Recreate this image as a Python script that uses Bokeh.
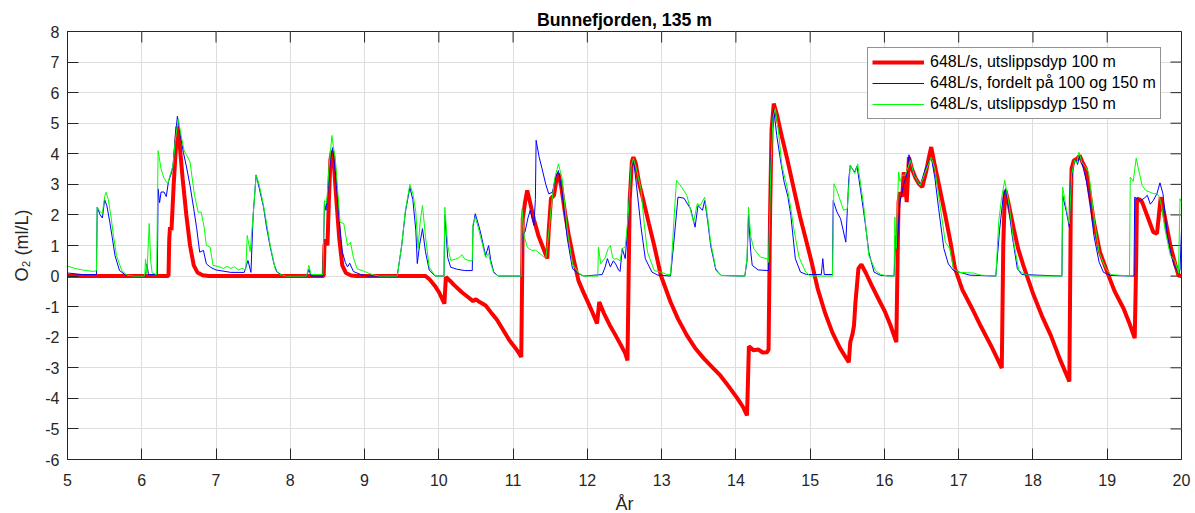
from bokeh.plotting import figure
from bokeh.models import Range1d, FixedTicker
from bokeh.embed import file_html
from bokeh.resources import INLINE

# ---------------- data ----------------
x_ticks = list(range(5, 21))
y_ticks = list(range(-6, 9))

red_t = [5.0, 6.36, 6.37, 6.38, 6.40, 6.41, 6.43, 6.46, 6.48, 6.50, 6.55, 6.60, 6.65, 6.70, 6.75, 6.82, 6.90,
         8.45, 8.46, 8.48, 8.50, 8.52, 8.54, 8.56, 8.58, 8.62, 8.66, 8.70, 8.75, 8.82, 8.90,
         9.82, 9.88, 9.95, 10.0, 10.04, 10.075, 10.095, 10.15, 10.20, 10.31, 10.40, 10.46, 10.50, 10.55, 10.63,
         10.70, 10.78, 10.85, 10.95, 11.03, 11.07, 11.11, 11.13, 11.16, 11.19, 11.22, 11.28, 11.34, 11.40,
         11.46, 11.48, 11.51, 11.55, 11.58, 11.61, 11.65, 11.70, 11.75, 11.82, 11.88, 11.95, 12.01, 12.07,
         12.13, 12.16, 12.22, 12.30, 12.38, 12.45, 12.51, 12.54, 12.57, 12.60, 12.62, 12.65, 12.70, 12.76,
         12.83, 12.90, 12.99, 13.12, 13.22, 13.34, 13.45, 13.57, 13.68, 13.79, 13.90, 14.02, 14.10, 14.15,
         14.175, 14.24, 14.30, 14.36, 14.42, 14.44, 14.46, 14.48, 14.51, 14.55, 14.62, 14.69, 14.78, 14.87,
         14.94, 15.02, 15.10, 15.20, 15.30, 15.40, 15.52, 15.54, 15.57, 15.59, 15.61, 15.65, 15.69, 15.75,
         15.83, 15.92, 16.01, 16.08, 16.16, 16.18, 16.19, 16.21, 16.24, 16.26, 16.28, 16.30, 16.33, 16.37,
         16.42, 16.47, 16.51, 16.56, 16.60, 16.63, 16.68, 16.75, 16.82, 16.89, 16.95, 17.05, 17.18, 17.30,
         17.44, 17.52, 17.58, 17.60, 17.62, 17.63, 17.66, 17.74, 17.80, 17.87, 18.01, 18.12, 18.24, 18.36,
         18.49, 18.51, 18.52, 18.55, 18.60, 18.63, 18.67, 18.71, 18.74, 18.82, 18.90, 19.0, 19.10, 19.22,
         19.30, 19.37, 19.39, 19.40, 19.44, 19.47, 19.55, 19.62, 19.67, 19.70, 19.72, 19.77, 19.85, 19.92,
         19.96, 20.0]
red_v = [0, 0, 1.2, 1.6, 1.5, 2.0, 3.0, 4.2, 4.9, 4.6, 3.2, 2.0, 1.0, 0.35, 0.12, 0.03, 0,
         0, 1.0, 1.2, 1.0, 2.5, 3.8, 4.1, 3.9, 2.5, 1.2, 0.35, 0.1, 0.02, 0,
         0, -0.12, -0.33, -0.52, -0.72, -0.9, -0.03, -0.15, -0.28, -0.53, -0.7, -0.82, -0.76, -0.85, -0.96,
         -1.18, -1.42, -1.7, -2.1, -2.35, -2.49, -2.65, 1.88, 2.4, 2.8, 2.5, 1.85, 1.33, 0.95,
         0.57, 1.5, 2.54, 2.64, 3.1, 3.36, 2.9, 2.05, 1.33, 0.5, -0.15, -0.55, -0.87, -1.2,
         -1.55, -0.85, -1.2, -1.6, -1.94, -2.25, -2.53, -2.76, 2.5, 3.75, 3.89, 3.7, 3.0, 2.42,
         1.7, 1.0, 0.02, -0.85, -1.4, -1.94, -2.35, -2.7, -2.98, -3.25, -3.6, -4.0, -4.3, -4.56,
         -2.3, -2.43, -2.4, -2.5, -2.49, -2.4, 2.0, 4.8, 5.64, 5.3, 4.55, 3.84, 2.85, 1.88,
         1.22, 0.45, -0.4, -1.2, -1.85, -2.35, -2.82, -2.16, -1.9, -1.62, -0.85, 0.25, 0.38, 0.1,
         -0.31, -0.75, -1.18, -1.6, -2.16, 1.0, 2.42, 2.74, 2.6, 3.4, 3.0, 2.42, 3.89, 3.5,
         3.2, 3.0, 2.91, 3.4, 3.9, 4.22, 3.6, 2.8, 1.98, 1.1, 0.25, -0.45, -1.06, -1.65,
         -2.3, -2.7, -3.01, 1.0, 2.6, 2.8, 2.5, 1.56, 0.9, 0.35, -0.63, -1.3, -1.94, -2.7,
         -3.45, 2.5, 3.52, 3.78, 3.85, 3.94, 3.7, 3.52, 3.1, 1.77, 0.8, 0.13, -0.5, -1.06,
         -1.55, -2.03, 0.5, 2.53, 2.5, 2.42, 1.9, 1.44, 1.39, 2.1, 2.58, 2.0, 1.0, 0.35,
         0.02, 0.0]

blue_t = [5.0, 5.2, 5.39, 5.40, 5.44, 5.47, 5.50, 5.53, 5.57, 5.60, 5.64, 5.70, 5.79, 6.05, 6.07, 6.09,
          6.21, 6.22, 6.24, 6.26, 6.30, 6.33, 6.36, 6.39, 6.42, 6.45, 6.48, 6.52, 6.56, 6.60, 6.65, 6.70,
          6.74, 6.78, 6.83, 6.87, 6.93, 7.0, 7.2, 7.38, 7.43, 7.47, 7.50, 7.54, 7.58, 7.64, 7.68, 7.73,
          7.78, 7.82, 7.9, 8.22, 8.25, 8.28, 8.44, 8.46, 8.48, 8.50, 8.54, 8.57, 8.61, 8.66, 8.70, 8.74,
          8.77, 8.80, 8.85, 8.95, 9.05, 9.44, 9.50, 9.55, 9.61, 9.65, 9.69, 9.71, 9.74, 9.78, 9.82, 9.87,
          9.95, 10.07, 10.08, 10.12, 10.16, 10.25, 10.35, 10.45, 10.46, 10.49, 10.52, 10.56, 10.60, 10.63,
          10.67, 10.70, 10.74, 10.80, 11.11, 11.12, 11.16, 11.20, 11.23, 11.28, 11.30, 11.31, 11.35, 11.39,
          11.44, 11.48, 11.53, 11.57, 11.61, 11.66, 11.73, 11.80, 11.88, 11.95, 12.20, 12.24, 12.27, 12.31,
          12.35, 12.38, 12.42, 12.44, 12.47, 12.51, 12.54, 12.58, 12.62, 12.66, 12.72, 12.78, 12.87, 12.95,
          13.12, 13.16, 13.22, 13.30, 13.39, 13.45, 13.49, 13.55, 13.58, 13.62, 13.66, 13.73, 13.8, 14.12,
          14.15, 14.17, 14.20, 14.22, 14.30, 14.44, 14.46, 14.49, 14.51, 14.55, 14.60, 14.65, 14.70, 14.74,
          14.80, 14.87, 14.95, 15.15, 15.17, 15.19, 15.30, 15.31, 15.36, 15.41, 15.48, 15.52, 15.54, 15.57,
          15.60, 15.63, 15.68, 15.74, 15.79, 15.86, 15.95, 16.13, 16.15, 16.17, 16.21, 16.26, 16.30, 16.33,
          16.37, 16.42, 16.48, 16.55, 16.63, 16.68, 16.73, 16.80, 16.86, 16.93, 17.05, 17.15, 17.50, 17.55,
          17.60, 17.63, 17.67, 17.72, 17.79, 17.85, 18.39, 18.40, 18.45, 18.49, 18.51, 18.55, 18.58, 18.60,
          18.63, 18.67, 18.72, 18.77, 18.82, 18.89, 18.95, 19.05, 19.36, 19.37, 19.42, 19.45, 19.50, 19.54,
          19.58, 19.62, 19.67, 19.71, 19.75, 19.81, 19.86, 19.90, 19.96, 19.98, 20.0]
blue_v = [0.1, 0.05, 0.05, 2.25, 2.0, 1.9, 2.5, 2.3, 1.76, 1.3, 0.67, 0.18, 0.02, 0.0, 0.4, 0.05,
          0.05, 2.85, 2.4, 2.75, 2.75, 2.6, 3.1, 3.3, 3.6, 4.5, 5.23, 4.6, 4.05, 3.6, 2.96, 2.2,
          1.55, 0.78, 0.84, 0.4, 0.28, 0.2, 0.12, 0.12, 0.51, 0.12, 2.0, 3.31, 2.9, 2.25, 1.6, 0.95,
          0.4, 0.13, 0.02, 0.0, 0.22, 0.0, 0.0, 2.4, 2.15, 2.6, 3.8, 4.2, 3.3, 1.8, 0.8, 0.45,
          0.3, 0.42, 0.15, 0.05, 0.0, 0.0, 1.0, 2.1, 2.9, 2.5, 1.5, 0.41, 1.0, 1.55, 0.8, 0.2,
          0.0, 0.0, 2.0, 0.6, 0.29, 0.22, 0.18, 0.18, 1.6, 2.04, 1.8, 1.44, 1.0, 0.67,
          1.0, 0.5, 0.13, 0.0, 0.0, 1.33, 1.44, 1.9, 2.15, 1.66, 2.5, 4.44, 3.9, 3.51,
          3.0, 2.69, 2.74, 3.2, 3.45, 2.74, 1.22, 0.24, 0.08, 0.0, 0.05, 0.3, 0.57, 0.3,
          0.5, 0.4, 0.2, 0.15, 0.9, 0.57, 1.5, 3.4, 3.84, 3.0, 1.65, 0.57, 0.13, 0.03,
          0.0, 1.0, 2.58, 2.55, 2.2, 1.6, 2.31, 2.15, 2.47, 1.8, 1.0, 0.2, 0.02, 0.0,
          0.5, 2.0, 0.8, 0.35, 0.2, 0.18, 3.0, 5.0, 5.47, 4.6, 3.8, 3.07, 2.6, 1.98,
          0.57, 0.13, 0.05, 0.05, 0.57, 0.05, 0.05, 2.47, 2.1, 1.87, 1.11, 3.18, 3.62, 3.5,
          3.4, 3.6, 2.8, 1.76, 0.78, 0.13, 0.02, 0.0, 1.33, 0.9, 2.42, 3.02, 3.3, 3.97,
          3.56, 3.2, 2.96, 3.51, 3.89, 3.2, 2.2, 0.9, 0.4, 0.18, 0.1, 0.03, 0.0, 1.5,
          2.6, 2.86, 2.3, 1.33, 0.24, 0.05, 0.0, 2.64, 2.1, 1.6, 3.0, 3.7, 3.8, 3.65,
          3.94, 3.6, 3.1, 2.4, 1.33, 0.46, 0.12, 0.02, 0.0, 2.58, 2.5, 2.47, 2.55, 2.64,
          2.35, 2.47, 2.7, 3.05, 2.7, 1.33, 0.7, 0.35, 0.1, 0.2, 1.5]

green_t = [5.0, 5.1, 5.2, 5.35, 5.39, 5.40, 5.44, 5.47, 5.50, 5.52, 5.55, 5.59, 5.62, 5.66, 5.73, 5.8,
           5.9, 6.04, 6.05, 6.07, 6.10, 6.12, 6.14, 6.20, 6.22, 6.26, 6.30, 6.35, 6.38, 6.42, 6.45, 6.49,
           6.53, 6.57, 6.60, 6.65, 6.71, 6.76, 6.80, 6.84, 6.87, 6.92, 6.96, 7.05, 7.1, 7.15, 7.2, 7.25,
           7.3, 7.35, 7.40, 7.42, 7.46, 7.50, 7.54, 7.58, 7.64, 7.69, 7.73, 7.80, 7.86, 7.95, 8.22, 8.25,
           8.28, 8.44, 8.46, 8.49, 8.52, 8.56, 8.61, 8.67, 8.72, 8.77, 8.81, 8.85, 8.90, 9.0, 9.1, 9.2,
           9.44, 9.50, 9.55, 9.61, 9.65, 9.69, 9.72, 9.75, 9.78, 9.82, 9.87, 9.95, 10.07, 10.08, 10.12,
           10.16, 10.22, 10.27, 10.31, 10.35, 10.42, 10.45, 10.46, 10.49, 10.53, 10.56, 10.60, 10.63, 10.67,
           10.70, 10.74, 10.80, 11.11, 11.12, 11.15, 11.19, 11.25, 11.30, 11.38, 11.44, 11.48, 11.51, 11.56,
           11.61, 11.66, 11.73, 11.80, 11.88, 11.95, 12.14, 12.15, 12.18, 12.24, 12.28, 12.31, 12.34, 12.36,
           12.40, 12.44, 12.47, 12.51, 12.55, 12.59, 12.62, 12.66, 12.72, 12.77, 12.81, 12.90, 12.99, 13.07,
           13.12, 13.14, 13.17, 13.20, 13.27, 13.34, 13.43, 13.48, 13.52, 13.58, 13.62, 13.66, 13.73, 13.8,
           14.12, 14.15, 14.17, 14.20, 14.24, 14.33, 14.42, 14.44, 14.47, 14.50, 14.53, 14.57, 14.62, 14.69,
           14.74, 14.78, 14.85, 14.94, 15.0, 15.30, 15.32, 15.36, 15.39, 15.45, 15.50, 15.54, 15.57, 15.60,
           15.64, 15.68, 15.72, 15.79, 15.88, 15.95, 16.05, 16.13, 16.14, 16.16, 16.19, 16.21, 16.24, 16.28,
           16.31, 16.35, 16.40, 16.48, 16.55, 16.63, 16.68, 16.73, 16.82, 16.88, 16.93, 17.0, 17.2, 17.3,
           17.5, 17.54, 17.58, 17.62, 17.68, 17.74, 17.81, 17.9, 18.0, 18.39, 18.40, 18.45, 18.49, 18.52,
           18.56, 18.59, 18.62, 18.66, 18.70, 18.75, 18.83, 18.89, 18.98, 19.05, 19.30, 19.31, 19.35, 19.39,
           19.43, 19.47, 19.52, 19.58, 19.62, 19.67, 19.70, 19.73, 19.78, 19.85, 19.91, 19.96, 19.98, 20.0]
green_v = [0.33, 0.25, 0.2, 0.15, 0.18, 2.25, 2.1, 2.05, 2.6, 2.74, 2.5, 1.87, 1.3, 0.67, 0.18, 0.03,
           0.0, 0.0, 0.55, 0.1, 1.72, 0.5, 0.1, 0.05, 4.1, 3.5, 3.2, 3.02, 3.3, 3.6, 4.4, 5.14,
           4.6, 4.1, 3.97, 3.73, 2.64, 2.09, 2.09, 1.6, 1.0, 0.95, 0.35, 0.3, 0.25, 0.32, 0.25, 0.3,
           0.2, 0.25, 0.2, 1.33, 0.8, 2.0, 3.3, 3.0, 2.3, 1.6, 1.0, 0.2, 0.05, 0.0, 0.0, 0.35,
           0.05, 0.05, 2.47, 2.4, 3.5, 4.6, 3.73, 1.76, 1.72, 1.0, 1.11, 0.6, 0.24, 0.15, 0.05, 0.0,
           0.0, 1.0, 2.15, 3.0, 2.7, 2.1, 0.9, 1.8, 2.31, 1.3, 0.3, 0.0, 0.0, 2.25, 1.0,
           0.51, 0.55, 0.6, 0.7, 0.55, 0.5, 0.5, 1.7, 1.93, 1.6, 1.3, 0.9, 0.6, 0.75,
           0.4, 0.1, 0.0, 0.0, 2.2, 1.3, 0.95, 0.84, 0.85, 0.7, 0.57, 1.4, 2.2, 3.2,
           3.67, 3.2, 1.5, 0.4, 0.1, 0.0, 0.0, 0.95, 0.4, 0.6, 0.9, 1.0, 0.6, 0.55,
           0.57, 0.5, 0.9, 0.95, 2.0, 3.6, 3.85, 3.5, 2.86, 1.6, 0.78, 0.18, 0.13, 0.05,
           0.05, 0.78, 2.0, 3.13, 2.91, 2.64, 1.76, 2.37, 2.31, 2.58, 1.9, 1.11, 0.24, 0.02,
           0.0, 0.6, 2.25, 1.3, 0.9, 0.62, 0.57, 0.45, 3.5, 5.2, 5.48, 4.8, 3.6, 2.91,
           2.2, 1.55, 0.62, 0.13, 0.0, 0.0, 3.02, 2.8, 2.58, 2.15, 2.2, 3.62, 3.5, 3.35,
           3.67, 3.0, 2.31, 0.67, 0.18, 0.05, 0.0, 0.0, 1.93, 0.9, 3.4, 3.1, 3.3, 3.3,
           3.5, 3.78, 3.3, 2.96, 3.4, 3.89, 3.5, 2.64, 1.11, 0.9, 0.24, 0.12, 0.1, 0.03,
           0.0, 1.82, 2.6, 3.13, 2.31, 1.11, 0.18, 0.05, 0.0, 0.0, 2.91, 2.2, 1.71, 3.3,
           3.8, 3.7, 4.05, 3.7, 3.6, 3.4, 1.77, 0.78, 0.24, 0.05, 0.0, 3.24, 3.1, 3.86,
           3.4, 2.96, 2.8, 2.74, 2.7, 2.69, 2.6, 2.31, 1.5, 0.67, 0.51, 0.1, 2.53, 2.4]

labels = ["648L/s, utslippsdyp 100 m", "648L/s, fordelt på 100 og 150 m", "648L/s, utslippsdyp 150 m"]
title_text = "Bunnefjorden, 135 m"
x_label = "År"
y_label = "O₂ (ml/L)"

# ---------------- figure ----------------
FONT = "Liberation Sans"
AX = "#262626"
FW, FH = 1114, 428
TICK = 11
x0, x1 = x_ticks[0], x_ticks[-1]
y0, y1 = y_ticks[0], y_ticks[-1]

p = figure(frame_width=FW, frame_height=FH,
           x_range=Range1d(x0, x1), y_range=Range1d(y0, y1),
           output_backend="svg", toolbar_location=None,
           min_border_left=67, min_border_right=14, min_border_top=31, min_border_bottom=54,
           background_fill_color="white", border_fill_color="white")

p.title.text = title_text
p.title.align = "center"
p.title.text_font = FONT
p.title.text_font_size = "17.7px"
p.title.text_font_style = "bold"
p.title.text_color = "black"
p.title.standoff = 4

p.outline_line_color = AX
p.outline_line_width = 1

for ax in (p.xaxis[0], p.yaxis[0]):
    ax.major_label_text_font = FONT
    ax.major_label_text_font_size = "16px"
    ax.major_label_text_color = AX
    ax.axis_line_color = AX
    ax.major_tick_line_color = AX
    ax.major_tick_in = TICK
    ax.major_tick_out = 0
    ax.minor_tick_line_color = None
    ax.axis_label_text_font = FONT
    ax.axis_label_text_font_size = "18px"
    ax.axis_label_text_font_style = "normal"
    ax.axis_label_text_color = AX

p.xaxis[0].ticker = FixedTicker(ticks=x_ticks)
p.yaxis[0].ticker = FixedTicker(ticks=y_ticks)
p.xaxis[0].major_label_overrides = {t: str(t) for t in x_ticks}
p.yaxis[0].major_label_overrides = {t: str(t) for t in y_ticks}
p.xaxis[0].axis_label = x_label
p.yaxis[0].axis_label = y_label
p.xaxis[0].major_label_standoff = 14
p.yaxis[0].major_label_standoff = 8
p.xaxis[0].axis_label_standoff = 5
p.yaxis[0].axis_label_standoff = 10

p.grid.grid_line_color = "#dedede"
p.grid.grid_line_width = 1
p.xgrid.ticker = FixedTicker(ticks=x_ticks)
p.ygrid.ticker = FixedTicker(ticks=y_ticks)

# mirrored inward ticks on the top and right edges of the box
dy = TICK * (y1 - y0) / FH
dx = TICK * (x1 - x0) / FW
p.segment(x0=x_ticks, y0=[y1] * len(x_ticks), x1=x_ticks, y1=[y1 - dy] * len(x_ticks),
          line_color=AX, line_width=1)
p.segment(x0=[x1] * len(y_ticks), y0=y_ticks, x1=[x1 - dx] * len(y_ticks), y1=y_ticks,
          line_color=AX, line_width=1)

p.line(red_t, red_v, line_color="#ff0000", line_width=4, legend_label=labels[0])
p.line(blue_t, blue_v, line_color="#0000ff", line_width=1, legend_label=labels[1])
p.line(green_t, green_v, line_color="#00ff00", line_width=1, legend_label=labels[2])

lg = p.legend[0]
lg.location = (800, 340)
lg.margin = 0
lg.padding = 4
lg.spacing = 1
lg.glyph_width = 52
lg.glyph_height = 20
lg.label_height = 20
lg.label_standoff = 6
lg.label_text_font = FONT
lg.label_text_font_size = "16px"
lg.label_text_color = "black"
lg.border_line_color = AX
lg.border_line_width = 1
lg.background_fill_color = "white"
lg.background_fill_alpha = 1

open("out.html", "w").write(file_html(p, INLINE))
